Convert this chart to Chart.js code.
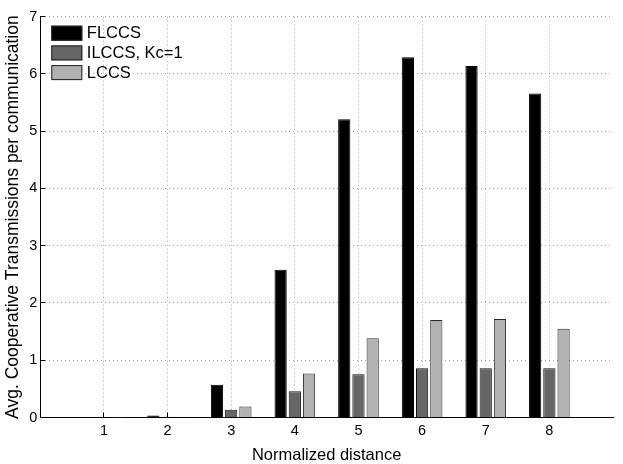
<!DOCTYPE html>
<html>
<head>
<meta charset="utf-8">
<script src="https://cdn.jsdelivr.net/npm/chart.js@4.4.1/dist/chart.umd.min.js"></script>
<style>
  html, body { margin: 0; padding: 0; background: #fff; overflow: hidden; }
  #wrap { position: relative; width: 623px; height: 464px; }
</style>
</head>
<body>
<div id="wrap"><canvas id="chart"></canvas></div>
<script>
// normalized distance 1..8 (axis runs 0..9, ends left empty)
const categories = ["1", "2", "3", "4", "5", "6", "7", "8"];
const flccs = [0.005, 0.035, 0.57, 2.58, 5.21, 6.29, 6.14, 5.66];
const ilccs = [0.002, 0.015, 0.135, 0.46, 0.755, 0.86, 0.86, 0.86];
const lccs  = [0.002, 0.015, 0.19, 0.77, 1.385, 1.705, 1.72, 1.55];
const yTicks = [0, 1, 2, 3, 4, 5, 6, 7];

const FONT = "'Liberation Sans', Arial, Helvetica, sans-serif";

// pad with an empty slot on each side so ticks sit at 1..8 of a 0..9 axis
const labels = [""].concat(categories, [""]);
const pad = (arr) => [null].concat(arr, [null]);
const isEdge = (c) => c.index === 0 || c.index === labels.length - 1;

// legend drawn inside the plot, top-left (like matlab)
const insideLegend = {
    id: "insideLegend",
    afterDraw(chart) {
        const ctx = chart.ctx;
        const area = chart.chartArea;
        ctx.save();
        ctx.font = "16.5px " + FONT;
        ctx.textBaseline = "middle";
        chart.data.datasets.forEach((ds, i) => {
            const x = area.left + 11;
            const y = area.top + 9 + i * 19.7;
            ctx.fillStyle = ds.backgroundColor;
            ctx.fillRect(x, y, 31, 15);
            ctx.strokeStyle = "#222";
            ctx.lineWidth = 1;
            ctx.strokeRect(x + 0.5, y + 0.5, 30, 14);
            ctx.fillStyle = "#000";
            ctx.fillText(ds.label, x + 35.5, y + 8);
        });
        ctx.restore();
    }
};

const ctx = document.getElementById("chart").getContext("2d");
new Chart(ctx, {
    type: "bar",
    data: {
        labels: labels,
        datasets: [
            {
                label: "FLCCS",
                data: pad(flccs),
                backgroundColor: "#000000",
                borderColor: "#000000",
                borderWidth: 1,
            },
            {
                label: "ILCCS, Kc=1",
                data: pad(ilccs),
                backgroundColor: "#666666",
                borderColor: "#111111",
                borderWidth: 1,
            },
            {
                label: "LCCS",
                data: pad(lccs),
                backgroundColor: "#b2b2b2",
                borderColor: "#2a2a2a",
                borderWidth: 1,
            },
        ],
    },
    options: {
        responsive: true,
        maintainAspectRatio: false,
        animation: false,
        layout: { padding: { top: 14, left: 0, right: 0, bottom: 0 } },
        datasets: {
            bar: { categoryPercentage: 0.67, barPercentage: 0.86 }
        },
        plugins: {
            legend: { display: false },
            tooltip: { enabled: false },
        },
        scales: {
            x: {
                offset: false,
                grid: {
                    offset: false,
                    color: (c) => isEdge(c) ? "transparent" : "#a5a5a5",
                    tickColor: (c) => isEdge(c) ? "transparent" : "#000",
                    tickLength: -5,
                    tickBorderDash: [],
                },
                border: { display: true, color: "#000", width: 1, dash: [1, 3] },
                ticks: {
                    color: "#000",
                    font: { family: FONT, size: 14.5 },
                    maxRotation: 0,
                    autoSkip: false,
                    padding: 10,
                },
                title: {
                    display: true,
                    text: "Normalized distance",
                    color: "#000",
                    font: { family: FONT, size: 16.5 },
                    padding: { top: 0, bottom: -1 },
                },
                afterFit: (scale) => { scale.height = 46.5; },
            },
            y: {
                min: 0,
                max: 7,
                afterBuildTicks: (scale) => {
                    scale.ticks = yTicks.map((v) => ({ value: v }));
                },
                grid: {
                    color: "#a5a5a5",
                    tickColor: "#000",
                    tickLength: -5,
                    tickBorderDash: [],
                },
                border: { display: true, color: "#000", width: 1, dash: [1, 3] },
                ticks: {
                    color: "#000",
                    font: { family: FONT, size: 14.5 },
                    padding: 8,
                },
                title: {
                    display: true,
                    text: "Avg. Cooperative Transmissions per communication",
                    color: "#000",
                    font: { family: FONT, size: 17.5 },
                    padding: { top: 3, bottom: 0 },
                },
                afterFit: (scale) => { scale.width = 40.3; },
            },
        },
    },
    plugins: [insideLegend],
});
</script>
</body>
</html>
